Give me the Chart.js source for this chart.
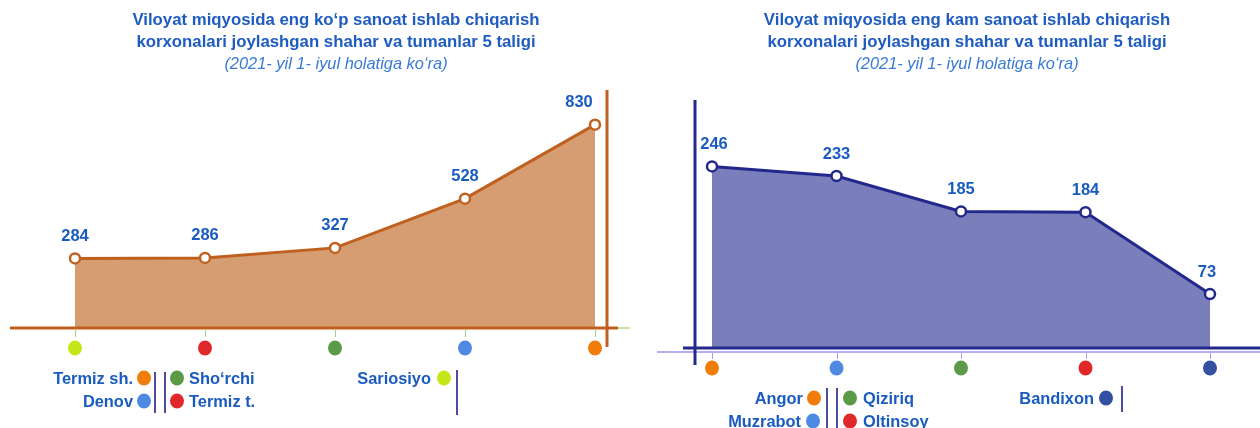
<!DOCTYPE html>
<html>
<head>
<meta charset="utf-8">
<script src="https://cdn.jsdelivr.net/npm/chart.js@4.4.1/dist/chart.umd.min.js"></script>
<style>
  html, body { margin: 0; padding: 0; background: #ffffff; }
  body { width: 1260px; height: 428px; position: relative; overflow: hidden;
         font-family: "Liberation Sans", Arial, sans-serif; }
  .panel { position: absolute; top: 0; width: 630px; height: 428px; }
  .panel canvas { position: absolute; left: 0; top: 0; }
  .title { position: absolute; top: 9px; width: 630px; text-align: center;
           color: #1f5cc2; font-weight: bold; font-size: 16.8px; line-height: 22px; }
  .title .sub { font-weight: normal; font-style: italic; color: #3a7ad6; font-size: 16.4px; line-height: 20px; }
  .lg { position: absolute; color: #1a5bc0; font-weight: bold; font-size: 16.4px;
        line-height: 18px; white-space: nowrap; transform: translateY(-50%); }
  .lg.r { transform: translate(-100%, -50%); }
  .dot { position: absolute; width: 14px; height: 15px; border-radius: 50%; transform: translate(-50%, -50%); }
  .sep { position: absolute; width: 2px; background: #4b4c9e; }
</style>
</head>
<body>
<div class="panel" id="leftPanel" style="left:0">
  <canvas id="leftChart" width="630" height="428"></canvas>
  <div class="title" style="left:21px">Viloyat miqyosida eng ko‘p sanoat ishlab chiqarish<br>korxonalari joylashgan shahar va tumanlar 5 taligi<br><span class="sub">(2021- yil 1- iyul holatiga ko‘ra)</span></div>
</div>
<div class="panel" id="rightPanel" style="left:630px">
  <canvas id="rightChart" width="630" height="428"></canvas>
  <div class="title" style="left:22px">Viloyat miqyosida eng kam sanoat ishlab chiqarish<br>korxonalari joylashgan shahar va tumanlar 5 taligi<br><span class="sub">(2021- yil 1- iyul holatiga ko‘ra)</span></div>
</div>
<div id="legends"></div>

<script>
// Top five by number of industrial enterprises
const leftCategories = ['Sariosiyo', 'Termiz t.', 'Sho‘rchi', 'Denov', 'Termiz sh.'];
const leftValues = [284, 286, 327, 528, 830];
const leftDotColors = ['#c6e619', '#e0282a', '#5a9a48', '#4f8ae2', '#f07c0a'];

// Bottom five by number of industrial enterprises
const rightCategories = ['Angor', 'Muzrabot', 'Qiziriq', 'Oltinsoy', 'Bandixon'];
const rightValues = [246, 233, 185, 184, 73];
const rightDotColors = ['#f07c0a', '#4f8ae2', '#5a9a48', '#e0282a', '#3450a2'];

// Value labels above each point (optional horizontal nudge per point)
function valueLabels(nudge) {
  return {
    id: 'valueLabels',
    afterDatasetsDraw(chart) {
      const ctx = chart.ctx;
      const meta = chart.getDatasetMeta(0);
      const data = chart.data.datasets[0].data;
      ctx.save();
      ctx.font = 'bold 16.5px "Liberation Sans", Arial, sans-serif';
      ctx.fillStyle = '#1a5bc0';
      ctx.textAlign = 'center';
      ctx.textBaseline = 'middle';
      meta.data.forEach((pt, i) => {
        ctx.fillText(String(data[i]), pt.x + (nudge[i] || 0), pt.y - 22);
      });
      ctx.restore();
    }
  };
}

// Axis lines, tick marks and category dots under the axis
function axisDecor(opts) {
  return {
    id: 'axisDecor',
    beforeDatasetsDraw(chart) {
      const ctx = chart.ctx;
      const ys = chart.scales.y, xs = chart.scales.x;
      const base = ys.getPixelForValue(0);
      ctx.save();
      ctx.strokeStyle = opts.tickColor;
      ctx.lineWidth = 1;
      chart.data.labels.forEach((_, i) => {
        const x = Math.round(xs.getPixelForValue(i)) + 0.5;
        ctx.beginPath();
        ctx.moveTo(x, base + opts.tickFrom);
        ctx.lineTo(x, base + opts.tickTo);
        ctx.stroke();
      });
      ctx.restore();
    },
    afterDatasetsDraw(chart) {
      const ctx = chart.ctx;
      const ys = chart.scales.y, xs = chart.scales.x;
      const base = ys.getPixelForValue(0);
      ctx.save();
      if (opts.under) {
        ctx.strokeStyle = opts.under.color;
        ctx.lineWidth = opts.under.width;
        ctx.beginPath();
        ctx.moveTo(opts.under.x0, base + opts.under.dy);
        ctx.lineTo(opts.under.x1, base + opts.under.dy);
        ctx.stroke();
      }
      ctx.strokeStyle = opts.axisColor;
      ctx.lineWidth = 3;
      ctx.beginPath();
      ctx.moveTo(opts.hx0, base);
      ctx.lineTo(opts.hx1, base);
      ctx.stroke();
      if (opts.extend) {
        ctx.strokeStyle = opts.extend.color;
        ctx.lineWidth = 1;
        ctx.beginPath();
        ctx.moveTo(opts.hx1, base);
        ctx.lineTo(opts.extend.x1, base);
        ctx.stroke();
      }
      ctx.strokeStyle = opts.axisColor;
      ctx.lineWidth = 3;
      ctx.beginPath();
      ctx.moveTo(opts.vx, opts.vy0);
      ctx.lineTo(opts.vx, opts.vy1);
      ctx.stroke();
      // category dots
      chart.data.labels.forEach((_, i) => {
        ctx.fillStyle = opts.dotColors[i];
        ctx.beginPath();
        ctx.ellipse(xs.getPixelForValue(i), base + opts.dotDy, 7, 7.5, 0, 0, Math.PI * 2);
        ctx.fill();
      });
      ctx.restore();
    }
  };
}

function makeChart(id, labels, values, style, padding, yMax, decor, nudge) {
  return new Chart(document.getElementById(id), {
    type: 'line',
    data: {
      labels: labels,
      datasets: [{
        data: values,
        borderColor: style.line,
        backgroundColor: style.fill,
        fill: 'origin',
        borderWidth: 3,
        tension: 0,
        pointRadius: 5,
        pointBorderWidth: 2.5,
        pointBackgroundColor: '#ffffff',
        pointBorderColor: style.line,
        clip: false
      }]
    },
    options: {
      responsive: false,
      devicePixelRatio: 1,
      animation: false,
      layout: { padding: padding },
      plugins: { legend: { display: false }, title: { display: false }, tooltip: { enabled: false } },
      scales: {
        x: { display: false, offset: false },
        y: { display: false, min: 0, max: yMax }
      }
    },
    plugins: [axisDecor(decor), valueLabels(nudge)]
  });
}

makeChart('leftChart', leftCategories, leftValues,
  { line: '#c0601e', fill: '#d69d72' },
  { left: 75, right: 35, top: 83, bottom: 100 }, 1000,
  { axisColor: '#c0601e', hx0: 10, hx1: 618, extend: { color: '#8cc63f', x1: 630 },
    vx: 607, vy0: 90, vy1: 347, tickColor: '#a8d47a', tickFrom: 2, tickTo: 9,
    dotDy: 20, dotColors: leftDotColors },
  [0, 0, 0, 0, -16]);

makeChart('rightChart', rightCategories, rightValues,
  { line: '#22288c', fill: '#7a7ebb' },
  { left: 82, right: 50, top: 97, bottom: 80 }, 340,
  { axisColor: '#22288c', hx0: 53, hx1: 630,
    under: { color: '#9d92f2', width: 1.5, x0: 27, x1: 630, dy: 4 },
    vx: 65, vy0: 100, vy1: 365, tickColor: '#a79cf0', tickFrom: 5, tickTo: 11,
    dotDy: 20, dotColors: rightDotColors },
  [2, 0, 0, 0, -3]);

// Legend blocks: names paired with the colour of their dot
const legendHost = document.getElementById('legends');
function addText(txt, x, y, alignRight) {
  const d = document.createElement('div');
  d.className = 'lg' + (alignRight ? ' r' : '');
  d.style.left = x + 'px'; d.style.top = y + 'px';
  d.textContent = txt;
  legendHost.appendChild(d);
}
function addDot(color, x, y) {
  const d = document.createElement('div');
  d.className = 'dot';
  d.style.left = x + 'px'; d.style.top = y + 'px';
  d.style.background = color;
  legendHost.appendChild(d);
}
function addSep(x, y0, y1) {
  const d = document.createElement('div');
  d.className = 'sep';
  d.style.left = (x - 1) + 'px'; d.style.top = y0 + 'px'; d.style.height = (y1 - y0) + 'px';
  legendHost.appendChild(d);
}

// left legend
addText(leftCategories[4], 133, 378, true); addDot(leftDotColors[4], 144, 378);
addText(leftCategories[3], 133, 401, true); addDot(leftDotColors[3], 144, 401);
addSep(155, 372, 413); addSep(165, 372, 413);
addDot(leftDotColors[2], 177, 378); addText(leftCategories[2], 189, 378, false);
addDot(leftDotColors[1], 177, 401); addText(leftCategories[1], 189, 401, false);
addText(leftCategories[0], 431, 378, true); addDot(leftDotColors[0], 444, 378);
addSep(457, 370, 415);

// right legend
addText(rightCategories[0], 803, 398, true); addDot(rightDotColors[0], 814, 398);
addText(rightCategories[1], 801, 421, true); addDot(rightDotColors[1], 813, 421);
addSep(827, 388, 430); addSep(837, 388, 430);
addDot(rightDotColors[2], 850, 398); addText(rightCategories[2], 863, 398, false);
addDot(rightDotColors[3], 850, 421); addText(rightCategories[3], 863, 421, false);
addText(rightCategories[4], 1094, 398, true); addDot(rightDotColors[4], 1106, 398);
addSep(1122, 386, 412);
</script>
</body>
</html>
